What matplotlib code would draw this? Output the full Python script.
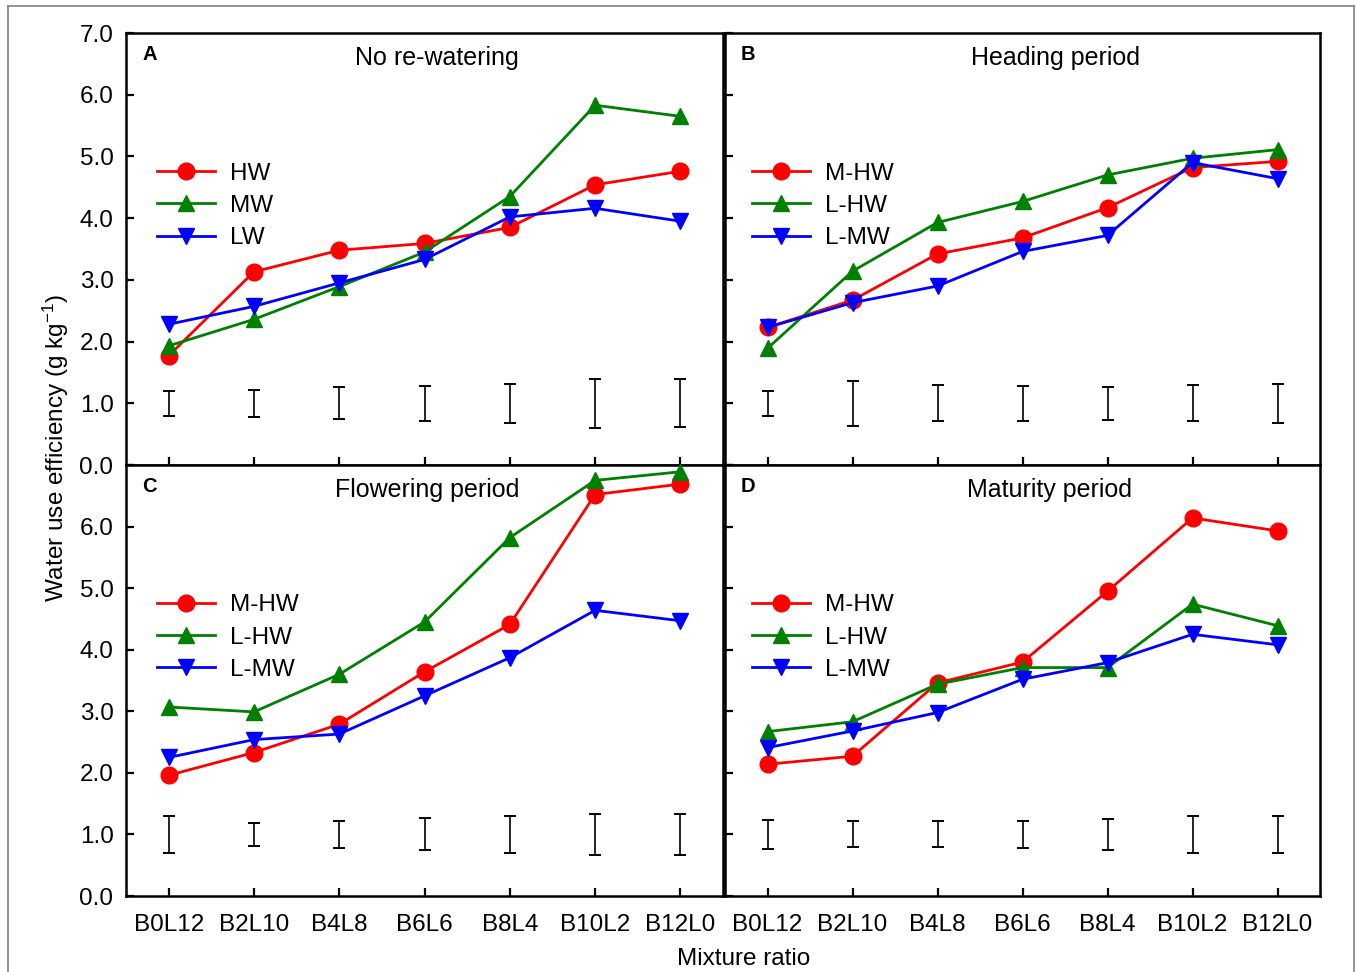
import matplotlib
matplotlib.use('Agg')
import matplotlib.pyplot as plt
from matplotlib.lines import Line2D

plt.rcParams['font.family'] = ['Liberation Sans', 'DejaVu Sans']
plt.rcParams['mathtext.fontset'] = 'custom'
plt.rcParams['mathtext.rm'] = 'Liberation Sans'
plt.rcParams['mathtext.it'] = 'Liberation Sans:italic'

categories = ['B0L12', 'B2L10', 'B4L8', 'B6L6', 'B8L4', 'B10L2', 'B12L0']

# Panel A: No re-watering
a_labels = ['HW', 'MW', 'LW']
a_hw = [1.77, 3.13, 3.48, 3.59, 3.85, 4.54, 4.76]
a_mw = [1.93, 2.36, 2.89, 3.45, 4.35, 5.83, 5.65]
a_lw = [2.28, 2.57, 2.95, 3.33, 4.02, 4.16, 3.95]
a_err = [0.20, 0.22, 0.26, 0.28, 0.32, 0.40, 0.39]

# Panel B: Heading period
b_labels = ['M-HW', 'L-HW', 'L-MW']
b_mhw = [2.23, 2.67, 3.42, 3.68, 4.17, 4.82, 4.92]
b_lhw = [1.89, 3.14, 3.93, 4.27, 4.70, 4.97, 5.11]
b_lmw = [2.23, 2.63, 2.90, 3.46, 3.72, 4.90, 4.64]
b_err = [0.20, 0.36, 0.29, 0.28, 0.27, 0.29, 0.32]

# Panel C: Flowering period
c_labels = ['M-HW', 'L-HW', 'L-MW']
c_mhw = [1.96, 2.33, 2.79, 3.64, 4.41, 6.52, 6.69]
c_lhw = [3.07, 2.99, 3.60, 4.45, 5.82, 6.75, 6.89]
c_lmw = [2.25, 2.54, 2.63, 3.25, 3.87, 4.64, 4.47]
c_err = [0.30, 0.19, 0.22, 0.26, 0.30, 0.33, 0.33]

# Panel D: Maturity period
d_labels = ['M-HW', 'L-HW', 'L-MW']
d_mhw = [2.14, 2.27, 3.46, 3.80, 4.95, 6.14, 5.93]
d_lhw = [2.67, 2.83, 3.44, 3.71, 3.71, 4.74, 4.39]
d_lmw = [2.41, 2.68, 2.98, 3.52, 3.79, 4.25, 4.08]
d_err = [0.24, 0.21, 0.21, 0.22, 0.25, 0.30, 0.30]

err_center = 1.0
yticks = [0, 1, 2, 3, 4, 5, 6, 7]

W, H = 1357, 972
fig = plt.figure(figsize=(W / 100, H / 100), dpi=100)

def rect(l, t, r, b):
    return [l / W, 1 - b / H, (r - l) / W, (b - t) / H]

axA = fig.add_axes(rect(126, 33, 723, 465))
axB = fig.add_axes(rect(725, 33, 1320, 465))
axC = fig.add_axes(rect(126, 465, 723, 896))
axD = fig.add_axes(rect(725, 465, 1320, 896))

colors = ['#ff0000', '#008000', '#0000ff']
markers = ['o', '^', 'v']

panels = [
    (axA, 'A', 'No re-watering', a_labels, [a_hw, a_mw, a_lw], a_err, 0.52),
    (axB, 'B', 'Heading period', b_labels, [b_mhw, b_lhw, b_lmw], b_err, 0.555),
    (axC, 'C', 'Flowering period', c_labels, [c_mhw, c_lhw, c_lmw], c_err, 0.505),
    (axD, 'D', 'Maturity period', d_labels, [d_mhw, d_lhw, d_lmw], d_err, 0.545),
]

x = list(range(len(categories)))
for i, (ax, letter, title, labels, series, err, tx) in enumerate(panels):
    handles = []
    for s, c, m, lab in zip(series, colors, markers, labels):
        h, = ax.plot(x, s, color=c, marker=m, markersize=12, linewidth=2.0,
                     markeredgecolor=c, label=lab, clip_on=False, zorder=3)
        handles.append(h)
    ax.errorbar(x, [err_center] * len(x), yerr=err, fmt='none', ecolor='black',
                elinewidth=1.2, capsize=4.3, capthick=1.4, zorder=2)
    ax.set_xlim(-0.5, 6.5)
    ax.set_ylim(0, 7)
    ax.set_xticks(x)
    ax.set_yticks(yticks)
    for sp in ax.spines.values():
        sp.set_linewidth(1.8)
    ax.tick_params(axis='both', direction='in', length=6, width=1.6,
                   labelsize=17.5, top=False, right=False)
    ax.tick_params(axis='y', pad=9)
    ax.tick_params(axis='x', pad=13)
    if ax in (axC, axD):
        ax.set_xticklabels(categories)
    else:
        ax.set_xticklabels([])
    if ax is axA:
        ax.set_yticklabels(['%.1f' % v for v in yticks])
    elif ax is axC:
        ax.set_yticklabels(['%.1f' % v for v in yticks[:-1]] + [''])
    else:
        ax.set_yticklabels([])
    ax.text(0.027, 0.95, letter, transform=ax.transAxes, fontsize=14.5,
            fontweight='bold', ha='left', va='center')
    ax.text(tx, 0.942, title, transform=ax.transAxes, fontsize=18,
            ha='center', va='center')
    ax.legend(handles=handles, loc='upper left',
              bbox_to_anchor=(0.052 if ax in (axA, axC) else 0.045, 0.70),
              frameon=False, fontsize=17.5, handlelength=2.4,
              handletextpad=0.6, labelspacing=0.42, borderpad=0,
              borderaxespad=0)

fig.text(744 / W, 1 - 959 / H, 'Mixture ratio', fontsize=17.5, ha='center', va='center')
fig.text(56 / W, 1 - 448 / H, 'Water use efficiency (g kg$^{-1}$)', fontsize=17.5,
         rotation=90, ha='center', va='center')

# outer frame
for xs, ys in [([8, 8], [6, 975]), ([8, 1354], [6, 6]), ([1354, 1354], [6, 975])]:
    fig.add_artist(Line2D([v / W for v in xs], [1 - v / H for v in ys],
                          color='#808080', linewidth=1.2))

fig.savefig('out.png', dpi=100)
